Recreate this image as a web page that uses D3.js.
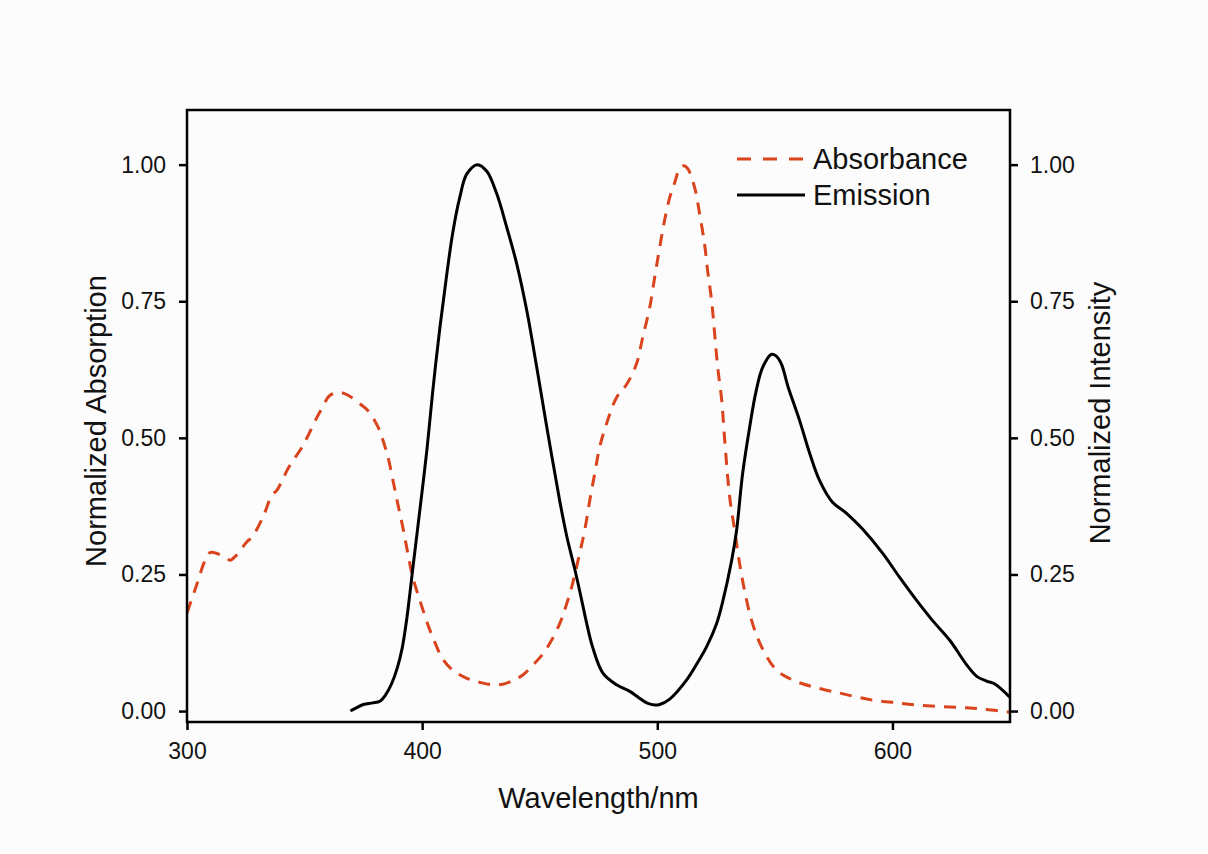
<!DOCTYPE html>
<html lang="en">
  <head>
    <meta charset="UTF-8" />
    <title>Absorbance and Emission</title>
    <script src="https://d3js.org/d3.v7.min.js"></script>
    <style>
      body {
        margin: 0;
        background: #fcfcfc;
      }
      svg text {
        font-family: "Liberation Sans", Arial, sans-serif;
        fill: #111;
      }
      .axis text {
        font-size: 23px;
      }
    </style>
  </head>
  <body>
    <div id="chart"></div>

    <script>
      // absorbance (dashed, orange) - wavelength / normalized value
      const absWave = [
        300, 303.8, 307.6, 309.8, 313, 317, 318.3, 321, 325.5, 327.6, 332.3,
        336.1, 338.2, 342.5, 343.8, 348.9, 351, 355.2, 357.4, 360.8, 365,
        368.5, 372.7, 376.9, 381.2, 383, 385.4, 387.5, 389.6, 391.8, 393.9,
        396, 399, 402.3, 405, 408.8, 413, 419, 425, 430, 434.3, 438, 442.8,
        447, 450.5, 454.3, 458.5, 461, 463.6, 467, 469.1, 471.3, 473.4, 475.5,
        478.5, 482.7, 487, 491.2, 493.8, 496.8, 498.9, 501, 503.1, 505.3,
        507.4, 509.5, 511.2, 512.9, 515.9, 518, 520.1, 521.4, 523.1, 524.4,
        525.7, 527.4, 528.6, 530.8, 532.9, 535, 537.1, 540.1, 544.4, 550.7,
        557.5, 564.8, 577.5, 591.5, 600, 610.2, 631.5, 640, 649.8
      ];
      const absValue = [
        0.18, 0.227, 0.275, 0.29, 0.288, 0.28, 0.276, 0.285, 0.31, 0.318,
        0.355, 0.395, 0.404, 0.44, 0.45, 0.483, 0.5, 0.537, 0.554, 0.578, 0.583,
        0.578, 0.565, 0.55, 0.52, 0.5, 0.466, 0.424, 0.38, 0.336, 0.289, 0.245,
        0.203, 0.16, 0.13, 0.095, 0.075, 0.06, 0.052, 0.048, 0.049, 0.055, 0.066,
        0.084, 0.1, 0.124, 0.16, 0.19, 0.227, 0.289, 0.33, 0.386, 0.435, 0.483,
        0.527, 0.574, 0.598, 0.636, 0.684, 0.739, 0.794, 0.848, 0.898, 0.94,
        0.967, 0.993, 0.998, 0.993, 0.958, 0.91, 0.855, 0.806, 0.751, 0.69,
        0.629, 0.569, 0.5, 0.391, 0.331, 0.27, 0.221, 0.166, 0.117, 0.075,
        0.057, 0.046, 0.033, 0.02, 0.016, 0.011, 0.006, 0.003, -0.002
      ];

      // emission (solid, black)
      const emWave = [
        369.5, 372, 375, 379, 382, 384.5, 387, 389.5, 391.5, 393.5, 396, 399,
        402, 404.5, 407.5, 410.5, 413, 416, 419, 423.5, 427.5, 431.7, 436,
        440.2, 444.5, 448.7, 453.4, 458.5, 461.5, 464.9, 467.5, 470,
        472.5, 476.8, 482.7, 488.3, 492, 495.5, 499, 501, 505.3, 512.5, 518,
        521, 525.2, 527.8, 531.6, 533.7, 536.3, 539.3, 542, 544.8, 548.6,
        550.5, 552.8, 555.5, 560.5, 564.8, 569, 574.5, 580.5, 587.3, 595.8,
        603, 610.2, 617, 624.3, 631.5, 636, 640, 643.4, 649.8
      ];
      const emValue = [
        0, 0.006, 0.012, 0.015, 0.018, 0.03, 0.05, 0.08, 0.115, 0.17, 0.26,
        0.367, 0.477, 0.585, 0.7, 0.8, 0.875, 0.94, 0.983, 1.0, 0.988, 0.947,
        0.885, 0.819, 0.733, 0.63, 0.51, 0.385, 0.32, 0.26, 0.21, 0.16,
        0.117, 0.07, 0.048, 0.036, 0.025, 0.015, 0.011, 0.012, 0.022, 0.057,
        0.095, 0.118, 0.16, 0.2, 0.275, 0.33, 0.435, 0.52, 0.585, 0.629, 0.653,
        0.65, 0.635, 0.595, 0.532, 0.472, 0.422, 0.382, 0.362, 0.333, 0.289,
        0.245, 0.203, 0.166, 0.13, 0.085, 0.063, 0.055, 0.05, 0.026
      ];

      const xTicks = [300, 400, 500, 600];
      const yTicks = [0, 0.25, 0.5, 0.75, 1.0];

      const width = 1208;
      const height = 854;
      const margin = { top: 110, right: 198, bottom: 132, left: 187 };
      const innerW = width - margin.left - margin.right;
      const innerH = height - margin.top - margin.bottom;

      const x = d3.scaleLinear().domain([300, 650]).range([0, innerW]);
      const y = d3.scaleLinear().domain([-0.02, 1.1]).range([innerH, 0]);

      const svg = d3
        .select("#chart")
        .append("svg")
        .attr("width", width)
        .attr("height", height);

      svg
        .append("rect")
        .attr("width", width)
        .attr("height", height)
        .attr("fill", "#fcfcfc");

      const g = svg
        .append("g")
        .attr("transform", `translate(${margin.left},${margin.top})`);

      svg
        .append("defs")
        .append("clipPath")
        .attr("id", "plot-clip")
        .append("rect")
        .attr("width", innerW)
        .attr("height", innerH);

      const line = d3
        .line()
        .x((d) => x(d[0]))
        .y((d) => y(d[1]))
        .curve(d3.curveCatmullRom.alpha(0.5));

      const absData = absWave.map((w, i) => [w, absValue[i]]);
      const emData = emWave.map((w, i) => [w, emValue[i]]);

      const curves = g.append("g").attr("clip-path", "url(#plot-clip)");

      curves
        .append("path")
        .datum(absData)
        .attr("d", line)
        .attr("fill", "none")
        .attr("stroke", "#d9441c")
        .attr("stroke-width", 3)
        .attr("stroke-dasharray", "12,9");

      curves
        .append("path")
        .datum(emData)
        .attr("d", line)
        .attr("fill", "none")
        .attr("stroke", "#000")
        .attr("stroke-width", 3);

      // axes
      const fmt = d3.format(".2f");
      const styleAxis = (sel) => {
        sel.select(".domain").remove();
        sel.selectAll(".tick line").attr("stroke", "#000").attr("stroke-width", 2.5);
        sel.selectAll(".tick text").attr("fill", "#111");
      };

      g.append("g")
        .attr("class", "axis")
        .attr("transform", `translate(0,${innerH})`)
        .call(d3.axisBottom(x).tickValues(xTicks).tickSize(8).tickPadding(13))
        .call(styleAxis);

      g.append("g")
        .attr("class", "axis")
        .call(d3.axisLeft(y).tickValues(yTicks).tickFormat(fmt).tickSize(8).tickPadding(13))
        .call(styleAxis);

      g.append("g")
        .attr("class", "axis")
        .attr("transform", `translate(${innerW},0)`)
        .call(d3.axisRight(y).tickValues(yTicks).tickFormat(fmt).tickSize(8).tickPadding(12))
        .call(styleAxis);

      g.append("rect")
        .attr("width", innerW)
        .attr("height", innerH)
        .attr("fill", "none")
        .attr("stroke", "#000")
        .attr("stroke-width", 2.5);

      // titles
      svg
        .append("text")
        .attr("x", margin.left + innerW / 2)
        .attr("y", 808)
        .attr("text-anchor", "middle")
        .attr("font-size", 29)
        .text("Wavelength/nm");

      svg
        .append("text")
        .attr("transform", `translate(106,421) rotate(-90)`)
        .attr("text-anchor", "middle")
        .attr("font-size", 29)
        .text("Normalized Absorption");

      svg
        .append("text")
        .attr("transform", `translate(1110,413) rotate(-90)`)
        .attr("text-anchor", "middle")
        .attr("font-size", 29)
        .text("Normalized Intensity");

      // legend
      const legend = svg.append("g").attr("transform", "translate(737,159)");
      const items = [
        { name: "Absorbance", color: "#d9441c", dash: "14,12" },
        { name: "Emission", color: "#000", dash: null },
      ];
      items.forEach((d, i) => {
        const row = legend.append("g").attr("transform", `translate(0,${i * 36})`);
        row
          .append("line")
          .attr("x1", 0)
          .attr("x2", 68)
          .attr("stroke", d.color)
          .attr("stroke-width", 3)
          .attr("stroke-dasharray", d.dash);
        row
          .append("text")
          .attr("x", 76)
          .attr("y", 10)
          .attr("font-size", 29)
          .text(d.name);
      });
    </script>
  </body>
</html>
